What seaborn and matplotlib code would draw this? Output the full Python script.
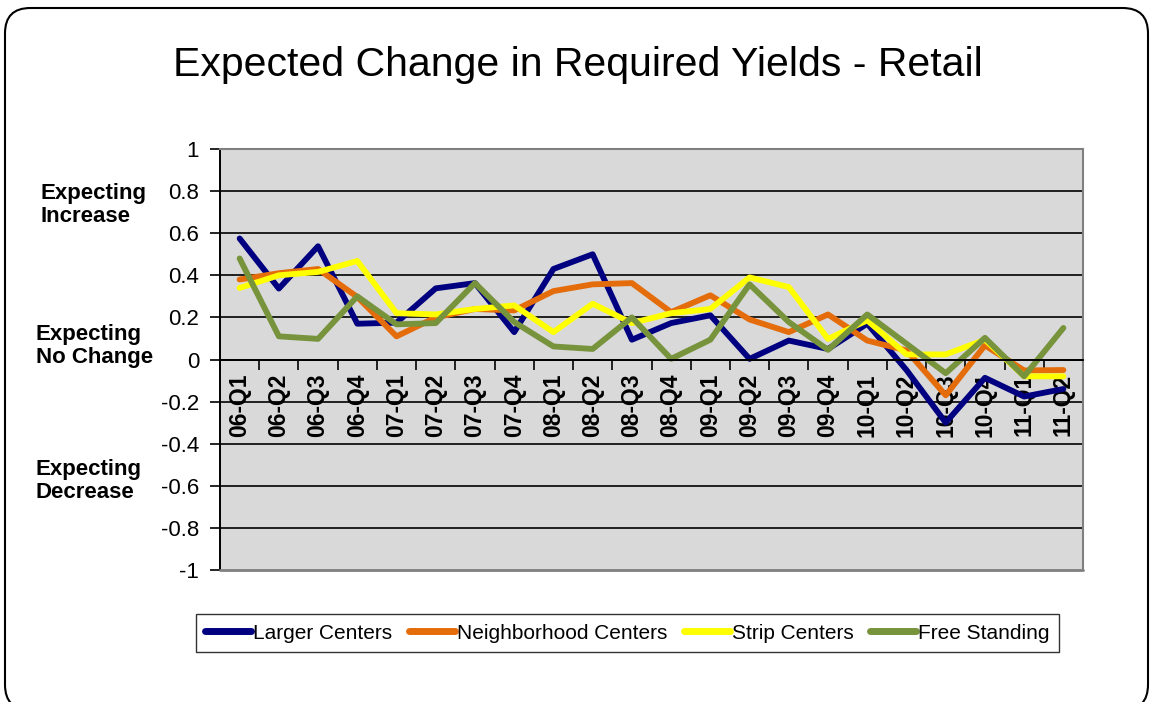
import seaborn as sns
import pandas as pd
import numpy as np
import matplotlib.pyplot as plt
from matplotlib.patches import FancyBboxPatch


quarters = ['06-Q1', '06-Q2', '06-Q3', '06-Q4', '07-Q1', '07-Q2', '07-Q3', '07-Q4',
            '08-Q1', '08-Q2', '08-Q3', '08-Q4', '09-Q1', '09-Q2', '09-Q3', '09-Q4',
            '10-Q1', '10-Q2', '10-Q3', '10-Q4', '11-Q1', '11-Q2']

larger = [0.575, 0.337, 0.538, 0.17, 0.175, 0.338, 0.363, 0.13, 0.43, 0.50, 0.094,
          0.173, 0.21, 0.003, 0.09, 0.05, 0.17, -0.05, -0.30, -0.087, -0.176, -0.14]
neighborhood = [0.38, 0.41, 0.43, 0.297, 0.11, 0.20, 0.24, 0.233, 0.325, 0.357, 0.363,
                0.225, 0.305, 0.19, 0.13, 0.214, 0.09, 0.043, -0.17, 0.067, -0.052, -0.05]
strip = [0.34, 0.40, 0.416, 0.468, 0.22, 0.214, 0.24, 0.257, 0.13, 0.265, 0.173,
         0.22, 0.24, 0.39, 0.344, 0.098, 0.186, 0.024, 0.024, 0.094, -0.08, -0.08]
free = [0.48, 0.11, 0.098, 0.30, 0.167, 0.173, 0.363, 0.178, 0.062, 0.05, 0.20,
        0.003, 0.094, 0.357, 0.178, 0.046, 0.214, 0.075, -0.065, 0.103, -0.08, 0.15]

series_names = ['Larger Centers', 'Neighborhood Centers', 'Strip Centers', 'Free Standing']
colors = ['#000080', '#E46C0A', '#FFFF00', '#77933C']
y_ticks = [-1, -0.8, -0.6, -0.4, -0.2, 0, 0.2, 0.4, 0.6, 0.8, 1]
y_tick_labels = ['-1', '-0.8', '-0.6', '-0.4', '-0.2', '0', '0.2', '0.4', '0.6', '0.8', '1']

# long table for seaborn
frames = []
for name, vals in zip(series_names, [larger, neighborhood, strip, free]):
    frames.append(pd.DataFrame({'pos': np.arange(len(quarters)), 'value': vals, 'series': name}))
df = pd.concat(frames, ignore_index=True)

sns.set_style('white')
plt.rcParams['font.family'] = ['Liberation Sans', 'DejaVu Sans']
plt.rcParams['text.color'] = 'black'
plt.rcParams['xtick.color'] = 'black'
plt.rcParams['ytick.color'] = 'black'

fig = plt.figure(figsize=(11.51, 7.02), dpi=100)
ax = fig.add_axes([220/1151, 1-570/702, (1083-220)/1151, (570-149)/702])
ax.set_facecolor('#D9D9D9')

sns.lineplot(data=df, x='pos', y='value', hue='series', hue_order=series_names,
             palette=colors, linewidth=4.2, legend=False, ax=ax, sort=False)

ax.set_xlim(-0.5, len(quarters) - 0.5)
ax.set_ylim(-1, 1)
ax.set_xlabel('')
ax.set_ylabel('')

# gridlines
for v in y_ticks[1:-1]:
    ax.axhline(v, color='black', lw=1.2, zorder=0.5)

ax.set_yticks(y_ticks)
ax.set_yticklabels(y_tick_labels)
ax.tick_params(axis='y', direction='out', length=7, width=1.2, color='black',
               labelsize=16, pad=8, left=True)

# x axis sits at zero
ax.spines['bottom'].set_position(('data', 0))
ax.spines['bottom'].set_color('black')
ax.spines['bottom'].set_linewidth(1.4)
ax.set_xticks(np.arange(len(quarters)))
ax.set_xticklabels(quarters, rotation=90, fontweight='bold', fontsize=16.5, va='top')
ax.set_xticks(np.arange(len(quarters) + 1) - 0.5, minor=True)
ax.tick_params(axis='x', which='major', length=0, pad=10)
ax.tick_params(axis='x', which='minor', direction='out', length=7, width=1.2,
               color='black', bottom=True)

ax.spines['left'].set_color('black')
ax.spines['left'].set_linewidth(1.4)
for s in ['top', 'right']:
    ax.spines[s].set_color('#808080')
    ax.spines[s].set_linewidth(1.5)
ax.axhline(-1, color='#808080', lw=2, clip_on=False, zorder=3)

# legend
handles = [plt.Line2D([], [], color=c, lw=5) for c in colors]
fig.legend(handles, series_names, loc='center', bbox_to_anchor=(0.545, 0.098),
           ncol=4, frameon=True, fancybox=False, edgecolor='black',
           fontsize=15, handlelength=2.2, handletextpad=0.1, columnspacing=0.8,
           borderpad=0.45)

fig.text(0.502, 0.908, 'Expected Change in Required Yields - Retail',
         ha='center', va='center', fontsize=29.5)

side_labels = ['Expecting\nIncrease', 'Expecting\nNo Change', 'Expecting\nDecrease']
for txt, (x, y) in zip(side_labels, [(0.035, 0.708), (0.031, 0.507), (0.031, 0.315)]):
    fig.text(x, y, txt, ha='left', va='center', fontsize=16, fontweight='bold',
             linespacing=1.15)

# rounded outer frame
fig.patches.append(FancyBboxPatch((5/1151, -8/702), 1143/1151, (702)/702,
                                  boxstyle='round,pad=0,rounding_size=0.022',
                                  mutation_aspect=1151/702, transform=fig.transFigure,
                                  fill=False, ec='black', lw=1.5))

plt.savefig('out.png', dpi=100)
